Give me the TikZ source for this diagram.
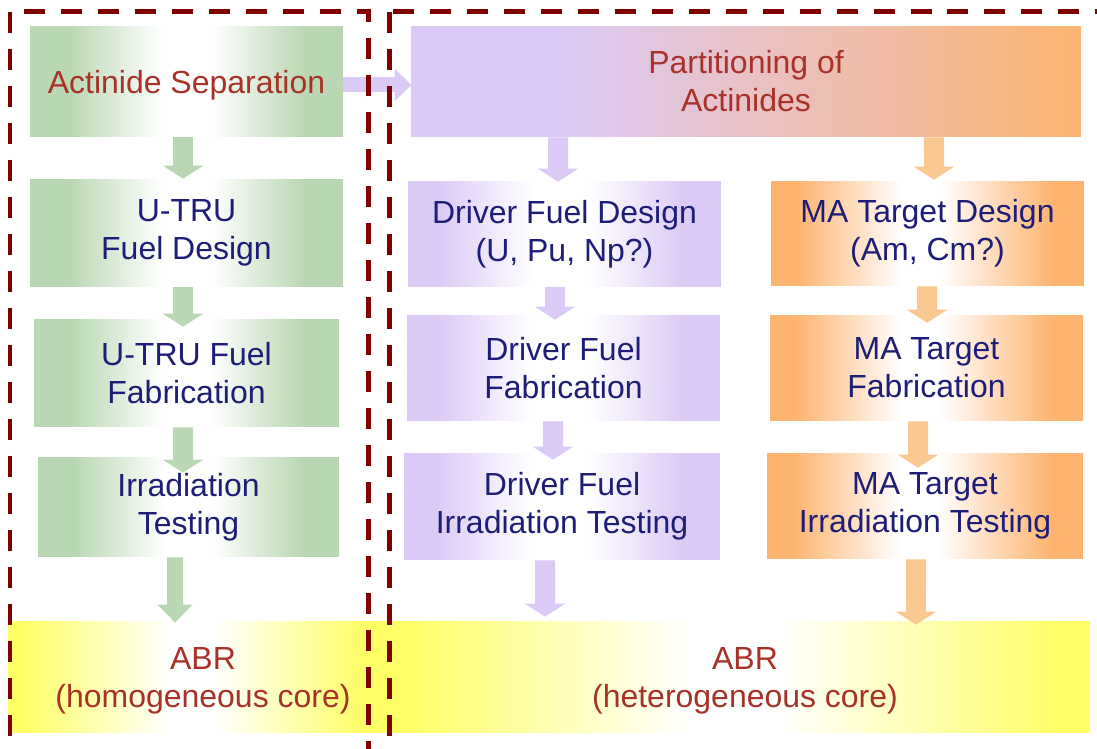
\documentclass[tikz,border=0pt]{standalone}
\usepackage{fontspec}
\setmainfont{Liberation Sans}
\usetikzlibrary{arrows.meta}

\definecolor{boxgreen}{RGB}{185,215,178}
\definecolor{boxpurple}{RGB}{220,202,246}
\definecolor{boxorange}{RGB}{253,180,112}
\definecolor{arrorange}{RGB}{249,200,144}
\definecolor{abryellow}{RGB}{255,255,102}
\definecolor{dashred}{RGB}{128,0,0}
\definecolor{txtred}{RGB}{168,50,40}
\definecolor{txtblue}{RGB}{30,30,120}

\pgfdeclarehorizontalshading{greenfade}{100bp}{color(0bp)=(boxgreen); color(31bp)=(boxgreen); color(46bp)=(white); color(54bp)=(white); color(69bp)=(boxgreen); color(100bp)=(boxgreen)}
\pgfdeclarehorizontalshading{purplefade}{100bp}{color(0bp)=(boxpurple); color(30bp)=(boxpurple); color(45bp)=(white); color(54bp)=(white); color(69bp)=(boxpurple); color(100bp)=(boxpurple)}
\pgfdeclarehorizontalshading{orangefade}{100bp}{color(0bp)=(boxorange); color(29bp)=(boxorange); color(46bp)=(white); color(52bp)=(white); color(70bp)=(boxorange); color(100bp)=(boxorange)}
\pgfdeclarehorizontalshading{partfade}{100bp}{color(0bp)=(boxpurple); color(36bp)=(boxpurple); color(75bp)=(boxorange); color(100bp)=(boxorange)}
\pgfdeclarehorizontalshading{abrfade}{100bp}{color(0bp)=(abryellow); color(27bp)=(abryellow); color(47bp)=(white); color(53bp)=(white); color(73bp)=(abryellow); color(100bp)=(abryellow)}

\tikzset{
	box/.style={inner sep=0pt, align=center, text=txtblue, font=\fontsize{18.2}{21.6}\selectfont, shade, shading angle=0},
	greenbox/.style={box, shading=greenfade},
	purplebox/.style={box, shading=purplefade},
	orangebox/.style={box, shading=orangefade},
	abrbar/.style={box, shading=abrfade, minimum height=2.24cm},
	redtext/.style={text=txtred, align=center, font=\fontsize{18.2}{21.6}\selectfont},
	flow/.style={line width=0.4cm, -{Triangle[width=0.8cm,length=0.26cm]}},
	gflow/.style={flow, draw=boxgreen},
	pflow/.style={flow, draw=boxpurple},
	oflow/.style={flow, draw=arrorange},
	dashbox/.style={draw=dashred, line width=0.1cm, dash pattern=on 0.42cm off 0.32cm}
}

\begin{document}
\begin{tikzpicture}[x=0.02cm, y=-0.02cm]
			%%%%% START %%%%%
			
			\useasboundingbox (0,0) rectangle (1097,749);
			\clip (0,0) rectangle (1097,749);
			
			% bottom bars
			\node[abrbar, minimum width=7.40cm] (abrL) at (193,677) {};
			\node[abrbar, minimum width=14.22cm] (abrR) at (733.5,677) {};
			\node[redtext] (abrLtext) at (203,681) {ABR\\(homogeneous core)};
			\node[redtext] (abrRtext) at (745,681) {ABR\\(heterogeneous core)};
			
			% homogeneous route
			\node[greenbox, text=txtred, text depth=0pt, minimum width=6.26cm, minimum height=2.22cm] (sep) at (186.5,81.5) {Actinide Separation};
			\node[greenbox, minimum width=6.26cm, minimum height=2.16cm] (udes) at (186.5,233) {U-TRU\\Fuel Design};
			\node[greenbox, minimum width=6.10cm, minimum height=2.16cm] (ufab) at (186.5,373) {U-TRU Fuel\\Fabrication};
			\node[greenbox, minimum width=6.02cm, minimum height=2.00cm] (uirr) at (188.5,507) {Irradiation\\Testing};
			
			% heterogeneous route
			\node[box, shading=partfade, text=txtred, minimum width=13.40cm, minimum height=2.22cm] (part) at (746,81.5) {Partitioning of\\Actinides};
			
			\node[purplebox, minimum width=6.26cm, minimum height=2.12cm] (ddes) at (564.5,234) {Driver Fuel Design\\(U, Pu, Np?)};
			\node[purplebox, minimum width=6.26cm, minimum height=2.12cm] (dfab) at (563.5,368) {Driver Fuel\\Fabrication};
			\node[purplebox, minimum width=6.32cm, minimum height=2.14cm] (dirr) at (562,506.5) {Driver Fuel\\Irradiation Testing};
			
			\node[orangebox, minimum width=6.26cm, minimum height=2.10cm] (mdes) at (927.5,233.5) {MA Target Design\\(Am, Cm?)};
			\node[orangebox, minimum width=6.26cm, minimum height=2.12cm] (mfab) at (926.5,368) {MA Target\\Fabrication};
			\node[orangebox, minimum width=6.32cm, minimum height=2.12cm] (mirr) at (925,506) {MA Target\\Irradiation Testing};
			
			% arrows
			\draw[gflow] ([xshift=-0.07cm]sep.south) -- ([xshift=-0.07cm]udes.north);
			\draw[gflow, shorten >=-0.16cm] ([xshift=-0.07cm]udes.south) -- ([xshift=-0.07cm]ufab.north);
			\draw[gflow, shorten >=-0.32cm] ([xshift=-0.07cm]ufab.south) -- ([xshift=-0.11cm]uirr.north);
			\draw[gflow, line width=0.32cm, -{Triangle[width=0.68cm,length=0.36cm]}, shorten >=-0.04cm] ([xshift=-0.27cm]uirr.south) -- ([xshift=-0.36cm]abrL.north);
			
			\draw[pflow, line width=0.3cm, -{Triangle[width=0.62cm,length=0.34cm]}, shorten >=-0.02cm] ([yshift=-0.07cm]sep.east) -- ([yshift=-0.07cm]part.west);
			
			\draw[pflow, shorten >=-0.02cm] ([xshift=-3.76cm]part.south) -- ([xshift=-0.13cm]ddes.north);
			\draw[pflow, shorten >=-0.10cm] ([xshift=-0.19cm]ddes.south) -- ([xshift=-0.17cm]dfab.north);
			\draw[pflow, shorten >=-0.14cm] ([xshift=-0.21cm]dfab.south) -- ([xshift=-0.18cm]dirr.north);
			\draw[pflow, shorten >=0.08cm] ([xshift=-0.34cm]dirr.south) -- ([xshift=-3.77cm]abrR.north);
			
			\draw[oflow, shorten >=0.02cm] ([xshift=3.76cm]part.south) -- ([xshift=0.13cm]mdes.north);
			\draw[oflow, shorten >=-0.16cm] ([xshift=-0.01cm]mdes.south) -- ([xshift=0.01cm]mfab.north);
			\draw[oflow, shorten >=-0.30cm] ([xshift=-0.17cm]mfab.south) -- ([xshift=-0.14cm]mirr.north);
			\draw[oflow, shorten >=-0.08cm] ([xshift=-0.18cm]mirr.south) -- ([xshift=3.65cm]abrR.north);
			
			% dashed frames
			\draw[dashbox] (10,12) rectangle (368,800);
			\draw[dashbox] (389,12) rectangle (1130,800);
			
			%%%%% END %%%%%
\end{tikzpicture}
\end{document}
